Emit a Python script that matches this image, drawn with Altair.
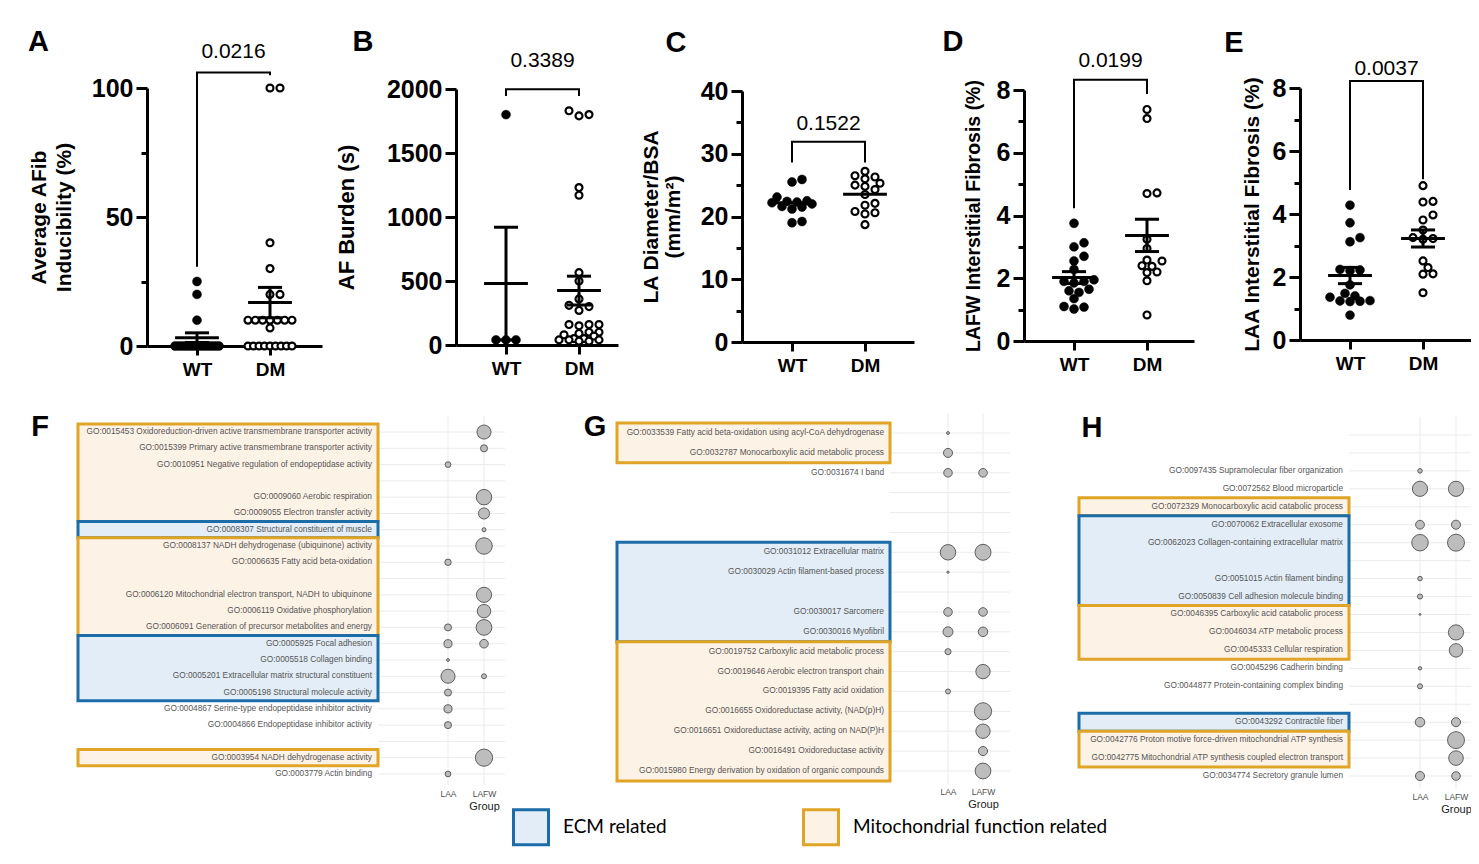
import json
import math
import pandas as pd
import altair as alt

# ============================ DATA ============================
GROUPS = ["WT", "DM"]

A_WT = [25, 20, 10, 0, 0, 0, 0, 0, 0, 0, 0, 0, 0, 0, 0, 0, 0]
A_DM = [100, 100, 40, 30, 20, 20, 10, 10, 10, 10, 10, 10, 10, 7, 0, 0, 0, 0, 0, 0, 0, 0, 0]
B_WT = [1800, 40, 40, 40]
B_DM = [1830, 1800, 1790, 1230, 1170, 565, 500, 360, 310, 300, 270, 160, 160, 160, 150,
        100, 100, 90, 80, 70, 50, 50, 40, 40, 40, 30, 30]
C_WT = [25.9, 25.5, 23.1, 22.5, 22.4, 22.3, 22.2, 22.0, 21.6, 21.5, 21.2, 19.2, 19.0]
C_DM = [27.2, 26.5, 26.3, 26.0, 25.3, 25.0, 24.8, 24.3, 23.5, 22.1, 21.8, 20.8, 20.6, 20.4, 18.7]
D_WT = [3.75, 3.13, 3.0, 2.7, 2.55, 2.28, 1.95, 1.9, 1.9, 1.85, 1.65, 1.6, 1.55, 1.35, 1.1, 1.08, 1.02]
D_DM = [7.38, 7.09, 4.72, 4.70, 3.24, 2.95, 2.58, 2.55, 2.40, 2.38, 2.20, 2.18, 1.92, 0.83]
E_WT = [4.28, 3.72, 3.25, 3.12, 2.24, 2.22, 2.20, 1.75, 1.48, 1.40, 1.36, 1.25, 1.24, 1.23, 1.22, 0.79]
E_DM = [4.90, 4.40, 4.38, 3.97, 3.81, 3.49, 3.25, 3.22, 3.20, 2.51, 2.30, 2.10, 2.09, 1.50]

TOP_WT = [A_WT, B_WT, C_WT, D_WT, E_WT]
TOP_DM = [A_DM, B_DM, C_DM, D_DM, E_DM]
P_VALUES = ["0.0216", "0.3389", "0.1522", "0.0199", "0.0037"]
Y_TITLES = [["Average AFib", "Inducibility (%)"], "AF Burden (s)", ["LA Diameter/BSA", "(mm/m\u00b2)"],
            "LAFW Interstitial Fibrosis (%)", "LAA Interstitial Fibrosis (%)"]
Y_MAJOR = [[0, 50, 100], [0, 500, 1000, 1500, 2000], [0, 10, 20, 30, 40], [0, 2, 4, 6, 8], [0, 2, 4, 6, 8]]
Y_MINOR = [[25, 75], [], [5, 15, 25, 35], [1, 3, 5, 7], [1, 3, 5, 7]]
BRACKET_TOP = [106, 1998, 31.9, 8.33, 8.22]
BRACKET_WT = [30.7, 1945, 28.6, 4.23, 4.76]
BRACKET_DM = [104.9, 1945, 28.6, 7.87, 5.10]
PTEXT_Y = [113.9, 2219, 34.8, 8.93, 8.59]
SHOW_SEM = [True, True, False, True, True]
LETTERS = ["A", "B", "C", "D", "E", "F", "G", "H"]

COLUMNS = ["LAA", "LAFW"]
CATEGORIES = ["ECM related", "Mitochondrial function related"]
CAT = {"E": CATEGORIES[0], "M": CATEGORIES[1]}

F_TERMS = [
    "GO:0015453 Oxidoreduction-driven active transmembrane transporter activity",
    "GO:0015399 Primary active transmembrane transporter activity",
    "GO:0010951 Negative regulation of endopeptidase activity",
    "",
    "GO:0009060 Aerobic respiration",
    "GO:0009055 Electron transfer activity",
    "GO:0008307 Structural constituent of muscle",
    "GO:0008137 NADH dehydrogenase (ubiquinone) activity",
    "GO:0006635 Fatty acid beta-oxidation",
    "",
    "GO:0006120 Mitochondrial electron transport, NADH to ubiquinone",
    "GO:0006119 Oxidative phosphorylation",
    "GO:0006091 Generation of precursor metabolites and energy",
    "GO:0005925 Focal adhesion",
    "GO:0005518 Collagen binding",
    "GO:0005201 Extracellular matrix structural constituent",
    "GO:0005198 Structural molecule activity",
    "GO:0004867 Serine-type endopeptidase inhibitor activity",
    "GO:0004866 Endopeptidase inhibitor activity",
    "",
    "GO:0003954 NADH dehydrogenase activity",
    "GO:0003779 Actin binding",
]
F_LAA = [0, 0, 4, 0, 0, 0, 0, 0, 5, 0, 0, 0, 6, 8, 1, 24, 6, 8, 6, 0, 0, 4]
F_LAFW = [24, 6, 0, 0, 29, 15, 2, 33, 0, 0, 28, 22, 30, 9, 0, 3, 0, 0, 0, 0, 36, 0]
F_BOX = ["M", "M", "M", "M", "M", "M", "E", "M", "M", "M", "M", "M", "M",
         "E", "E", "E", "E", None, None, None, "M", None]

G_TERMS = [
    "GO:0033539 Fatty acid beta-oxidation using acyl-CoA dehydrogenase",
    "GO:0032787 Monocarboxylic acid metabolic process",
    "GO:0031674 I band",
    "", "", "",
    "GO:0031012 Extracellular matrix",
    "GO:0030029 Actin filament-based process",
    "",
    "GO:0030017 Sarcomere",
    "GO:0030016 Myofibril",
    "GO:0019752 Carboxylic acid metabolic process",
    "GO:0019646 Aerobic electron transport chain",
    "GO:0019395 Fatty acid oxidation",
    "GO:0016655 Oxidoreductase activity, (NAD(p)H)",
    "GO:0016651 Oxidoreductase activity, acting on NAD(P)H",
    "GO:0016491 Oxidoreductase activity",
    "GO:0015980 Energy derivation by oxidation of organic compounds",
]
G_LAA = [1, 10, 9, 0, 0, 0, 29, 0.6, 0, 9, 12, 4.5, 0, 3, 0, 0, 0, 0]
G_LAFW = [0, 0, 9, 0, 0, 0, 31, 0, 0, 9, 11, 0, 25, 0, 36, 25, 10, 30]
G_BOX = ["M", "M", None, None, None, None, "E", "E", "E", "E", "E",
         "M", "M", "M", "M", "M", "M", "M"]

H_TERMS = [
    "", "",
    "GO:0097435 Supramolecular fiber organization",
    "GO:0072562 Blood microparticle",
    "GO:0072329 Monocarboxylic acid catabolic process",
    "GO:0070062 Extracellular exosome",
    "GO:0062023 Collagen-containing extracellular matrix",
    "",
    "GO:0051015 Actin filament binding",
    "GO:0050839 Cell adhesion molecule binding",
    "GO:0046395 Carboxylic acid catabolic process",
    "GO:0046034 ATP metabolic process",
    "GO:0045333 Cellular respiration",
    "GO:0045296 Cadherin binding",
    "GO:0044877 Protein-containing complex binding",
    "",
    "GO:0043292 Contractile fiber",
    "GO:0042776 Proton motive force-driven mitochondrial ATP synthesis",
    "GO:0042775 Mitochondrial ATP synthesis coupled electron transport",
    "GO:0034774 Secretory granule lumen",
]
H_LAA = [0, 0, 2.5, 28, 0, 9.4, 33, 0, 2.5, 3.2, 0.4, 0, 0, 1.4, 3.2, 0, 11, 0, 0, 10]
H_LAFW = [0, 0, 0, 28, 0, 10, 35, 0, 0, 0, 0, 28, 22, 0, 0, 0, 10, 35, 26, 9]
H_BOX = [None, None, None, None, "M", "E", "E", "E", "E", "E", "M", "M", "M",
         None, None, None, "E", "M", "M", None]

BOTTOM_DATA = [(F_TERMS, F_LAA, F_LAFW, F_BOX), (G_TERMS, G_LAA, G_LAFW, G_BOX),
               (H_TERMS, H_LAA, H_LAFW, H_BOX)]

# ============================ LAYOUT / STYLE ============================
W, H = 1463, 840
OX, OY = 8, 8
FONT = "Liberation Sans"
X_UNIT = 73.0
WT_OFFSET = 50.0
MEAN_HALF = 0.30
CAP_HALF = 0.165
GRID_COLOR = "#ebebeb"

# left, right, top, bottom, title gap, title size, title line height, letter dx, dy
TOP_GEOM = [
    (147, 322, 88, 346, 73, 21, 25, -108.5, -46),
    (456, 618, 89, 345, 98, 22, 25, -93, -47),
    (742, 914, 91, 342, 59, 21, 22, -66, -48.5),
    (1024, 1194, 90, 341, 41, 19.5, 22, -71, -48),
    (1300, 1471, 88, 340, 38, 21, 22, -66, -45),
]
# label left, label right, bubble left, bubble right, x LAA, x LAFW, row top, row bottom, letter dx, dy
BOT_GEOM = [
    (78, 378, 378, 505, 448, 484, 423.9, 782.1, -38, 3),
    (617, 890, 890, 1010, 948, 983, 423.1, 780.9, -22, 4),
    (1079, 1349, 1349, 1471, 1420, 1456, 426.0, 785.0, 13, 2),
]
GRID_EXT = (0.5, 0.2)  # extra rows of vertical grid above / below the rows

FILL_SCALE = alt.Scale(domain=CATEGORIES, range=["#e2edf7", "#fdf2e6"])
STROKE_SCALE = alt.Scale(domain=CATEGORIES, range=["#1c6ca8", "#e0a526"])
LEGEND = alt.Legend(orient="none", legendX=504, legendY=800, direction="horizontal", title=None,
                    symbolType="square", symbolSize=1225, symbolStrokeWidth=3,
                    labelFont="Lato", labelFontSize=19, labelColor="black", labelOffset=13,
                    columnPadding=130, padding=0, labelLimit=0)


def swarm(vals, ppu, d=10.0, wmax=44.0, overlap=0.75):
    n = len(vals)
    ys = [v * ppu for v in vals]
    xs = [None] * n
    placed = []
    counts = {}
    for v in vals:
        counts[v] = counts.get(v, 0) + 1
    for v, k in counts.items():
        if k >= 4:
            idx = [i for i in range(n) if vals[i] == v]
            s = min(d, wmax / (k - 1))
            for j, i in enumerate(idx):
                xs[i] = (j - (k - 1) / 2) * s
                placed.append((xs[i], ys[i]))
    cands = [0.0]
    for k in range(1, 20):
        c = k * d / 2
        if c > wmax / 2:
            break
        cands += [c, -c]
    for i in sorted(range(n), key=lambda q: ys[q]):
        if xs[i] is not None:
            continue
        best, best_md, choice = 0.0, -1.0, 0.0
        for c in cands:
            md = min((math.hypot(c - px, ys[i] - py) for px, py in placed), default=1e9)
            if md >= overlap * d:
                choice = c
                break
            if md > best_md:
                best_md, best = md, c
        else:
            choice = best
        xs[i] = choice
        placed.append((choice, ys[i]))
    return xs


def top_panel(i):
    left, right, top, bottom, gap, tsize, tlh, ldx, ldy = TOP_GEOM[i]
    major, minor = Y_MAJOR[i], Y_MINOR[i]
    ymax = major[-1]
    ppu = (bottom - top) / ymax
    lo = 1 - WT_OFFSET / X_UNIT
    hi = lo + (right - left) / X_UNIT
    xs = alt.Scale(domain=[lo, hi], range=[left - OX, right - OX], nice=False, zero=False)
    ys = alt.Scale(domain=[0, ymax], range=[bottom - OY, top - OY], nice=False, zero=False)

    rows = []
    for gi, vals in enumerate((TOP_WT[i], TOP_DM[i])):
        offs = swarm(vals, ppu)
        for v, o in zip(vals, offs):
            rows.append({"g": gi, "v": v, "x": gi + 1 + o / X_UNIT})
    df = pd.DataFrame(rows)

    mj = json.dumps(major)
    yaxis = alt.Axis(
        orient="left", offset=-(left - OX), values=sorted(major + minor), format="d",
        labelExpr=f"indexof({mj}, datum.value) >= 0 ? datum.label : ''",
        tickSize={"condition": {"test": f"indexof({mj}, datum.value) < 0", "value": 6}, "value": 11},
        tickWidth=3, tickColor="black", domainColor="black", domainWidth=3,
        labelFont=FONT, labelFontSize=25, labelFontWeight="bold", labelColor="black", labelPadding=3,
        labelOverlap=False, grid=False,
        title=Y_TITLES[i], titleFont=FONT, titleFontSize=tsize, titleFontWeight="bold",
        titleColor="black", titlePadding=0, titleLineHeight=tlh, minExtent=gap, maxExtent=gap,
    )
    xaxis = alt.Axis(
        orient="bottom", offset=(bottom - OY) - H, values=[1, 2],
        labelExpr=f"{json.dumps(GROUPS)}[datum.value - 1]",
        tickSize=9, tickWidth=3, tickColor="black", domainColor="black", domainWidth=3,
        labelFont=FONT, labelFontSize=19, labelFontWeight="bold", labelColor="black", labelPadding=5,
        labelFlush=False, labelOverlap=False, title=None, grid=False,
    )
    pts = alt.Chart(df).mark_point(shape="circle", filled=True, opacity=1).encode(
        x=alt.X("x:Q", scale=xs, axis=xaxis),
        y=alt.Y("v:Q", scale=ys, axis=yaxis),
        fill=alt.condition("datum.g == 0", alt.value("black"), alt.value("white")),
        stroke=alt.value("black"),
        strokeWidth=alt.condition("datum.g == 0", alt.value(0.5), alt.value(2.2)),
        size=alt.condition("datum.g == 0", alt.value(80), alt.value(48)),
    )
    stats = alt.Chart(df).transform_aggregate(
        m="mean(v)", se="stderr(v)", groupby=["g"]
    ).transform_calculate(
        xc="datum.g + 1",
        xl=f"datum.g + 1 - {MEAN_HALF}", xr=f"datum.g + 1 + {MEAN_HALF}",
        cl=f"datum.g + 1 - {CAP_HALF}", cr=f"datum.g + 1 + {CAP_HALF}",
        lo="datum.m - datum.se", hi="datum.m + datum.se",
    )
    ax = dict(scale=xs, axis=None)
    ay = dict(scale=ys, axis=None)
    layers = [pts,
              stats.mark_rule(strokeWidth=3, color="black").encode(
                  x=alt.X("xl:Q", **ax), x2="xr:Q", y=alt.Y("m:Q", **ay))]
    if SHOW_SEM[i]:
        layers += [
            stats.mark_rule(strokeWidth=3, color="black").encode(
                x=alt.X("xc:Q", **ax), y=alt.Y("lo:Q", **ay), y2="hi:Q"),
            stats.mark_rule(strokeWidth=3, color="black").encode(
                x=alt.X("cl:Q", **ax), x2="cr:Q", y=alt.Y("hi:Q", **ay)),
            stats.mark_rule(strokeWidth=3, color="black").encode(
                x=alt.X("cl:Q", **ax), x2="cr:Q", y=alt.Y("lo:Q", **ay)),
        ]
    br_df = pd.DataFrame({"x": [1, 1, 2, 2],
                          "y": [BRACKET_WT[i], BRACKET_TOP[i], BRACKET_TOP[i], BRACKET_DM[i]],
                          "o": [0, 1, 2, 3]})
    layers.append(alt.Chart(br_df).mark_line(strokeWidth=2, color="black").encode(
        x=alt.X("x:Q", **ax), y=alt.Y("y:Q", **ay), order="o:Q"))
    p_df = pd.DataFrame({"x": [1.5], "y": [PTEXT_Y[i]], "t": [P_VALUES[i]]})
    layers.append(alt.Chart(p_df).mark_text(font=FONT, fontSize=21, color="black",
                                            align="center", baseline="middle").encode(
        x=alt.X("x:Q", **ax), y=alt.Y("y:Q", **ay), text="t:N"))
    l_df = pd.DataFrame({"x": [lo], "y": [ymax], "t": [LETTERS[i]]})
    layers.append(alt.Chart(l_df).mark_text(font=FONT, fontSize=29, fontWeight="bold", color="black",
                                            align="center", baseline="middle", dx=ldx, dy=ldy).encode(
        x=alt.X("x:Q", **ax), y=alt.Y("y:Q", **ay), text="t:N"))
    return layers


def bottom_panel(j):
    terms, laa, lafw, boxes = BOTTOM_DATA[j]
    ll, lr, bl, brt, xa, xb, rt, rb, ldx, ldy = BOT_GEOM[j]
    n = len(terms)
    ys = alt.Scale(domain=[-0.5, n - 0.5], range=[rt - OY, rb - OY], nice=False, zero=False)
    xl = alt.Scale(domain=[0, 1], range=[ll - OX, lr - OX], nice=False, zero=False)
    u = xb - xa
    dlo, dhi = 1 - (xa - bl) / u, 2 + (brt - xb) / u
    xbs = alt.Scale(domain=[dlo, dhi], range=[bl - OX, brt - OX], nice=False, zero=False)
    ayl = dict(scale=ys, axis=None)

    # gridlines (drawn from the data rows / columns)
    hgrid = pd.DataFrame({"r": list(range(n)), "x0": dlo, "x1": dhi})
    vgrid = pd.DataFrame({"c": [1, 2], "y0": -0.5 - GRID_EXT[0], "y1": n - 0.5 + GRID_EXT[1]})
    layers = [
        alt.Chart(hgrid).mark_rule(strokeWidth=1, color=GRID_COLOR).encode(
            x=alt.X("x0:Q", scale=xbs, axis=None), x2="x1:Q", y=alt.Y("r:Q", **ayl)),
        alt.Chart(vgrid).mark_rule(strokeWidth=1, color=GRID_COLOR).encode(
            x=alt.X("c:Q", scale=xbs, axis=None), y=alt.Y("y0:Q", **ayl), y2="y1:Q"),
    ]

    runs = []
    k = 0
    while k < n:
        c = boxes[k]
        if c is None:
            k += 1
            continue
        s = k
        while k + 1 < n and boxes[k + 1] == c:
            k += 1
        runs.append({"cat": CAT[c], "y0": s - 0.5, "y1": k + 0.5, "x0": 0, "x1": 1})
        k += 1
    box_df = pd.DataFrame(runs)
    layers.append(alt.Chart(box_df).mark_rect(strokeWidth=3).encode(
        x=alt.X("x0:Q", scale=xl, axis=None), x2="x1:Q",
        y=alt.Y("y0:Q", **ayl), y2="y1:Q",
        fill=alt.Fill("cat:N", scale=FILL_SCALE, legend=LEGEND),
        stroke=alt.Stroke("cat:N", scale=STROKE_SCALE, legend=LEGEND),
    ))
    lab_df = pd.DataFrame([{"t": t, "r": r, "x": 1} for r, t in enumerate(terms) if t])
    layers.append(alt.Chart(lab_df).mark_text(align="right", baseline="middle", dx=-6, font=FONT,
                                              fontSize=8.3, color="#555555").encode(
        x=alt.X("x:Q", scale=xl, axis=None), y=alt.Y("r:Q", **ayl), text="t:N"))
    l_df = pd.DataFrame({"x": [0], "y": [-0.5], "t": [LETTERS[5 + j]]})
    layers.append(alt.Chart(l_df).mark_text(font=FONT, fontSize=29, fontWeight="bold", color="black",
                                            align="center", baseline="middle", dx=ldx, dy=ldy).encode(
        x=alt.X("x:Q", scale=xl, axis=None), y=alt.Y("y:Q", **ayl), text="t:N"))

    pts = []
    for r in range(n):
        for ci, arr in enumerate((laa, lafw)):
            if arr[r] > 0:
                pts.append({"r": r, "c": ci + 1, "n": arr[r]})
    bub_df = pd.DataFrame(pts)
    xaxis = alt.Axis(
        orient="bottom", offset=(rb - OY) - H, values=[1, 2],
        labelExpr=f"{json.dumps(COLUMNS)}[datum.value - 1]",
        grid=False, ticks=False, tickSize=0, domain=False,
        labelFont=FONT, labelFontSize=8.5, labelColor="#4d4d4d", labelPadding=7,
        labelFlush=False, labelOverlap=False,
        title="Group", titleFont=FONT, titleFontSize=11, titleFontWeight="normal", titleColor="#1a1a1a",
        titleX=xb - OX, titleY=18, titleAlign="center", titleBaseline="top",
    )
    layers.append(alt.Chart(bub_df).mark_point(shape="circle", filled=True, opacity=1, fill="#bdbdbd",
                                               stroke="#505050", strokeWidth=0.9).encode(
        x=alt.X("c:Q", scale=xbs, axis=xaxis),
        y=alt.Y("r:Q", **ayl),
        size=alt.Size("n:Q", scale=alt.Scale(domain=[0, 40], range=[0, 330]), legend=None),
    ))
    return layers


layers = []
for i in range(5):
    layers += top_panel(i)
for j in range(3):
    layers += bottom_panel(j)

chart = alt.layer(*layers).resolve_scale(
    x="independent", y="independent"
).resolve_axis(
    x="independent", y="independent"
).properties(
    width=W, height=H, padding=0, background="white",
    autosize=alt.AutoSizeParams(type="none", contains="padding"),
).configure_view(stroke=None).configure_axis(labelFont=FONT, titleFont=FONT)

chart.save("out.html", embed_options={"renderer": "svg", "actions": False})
